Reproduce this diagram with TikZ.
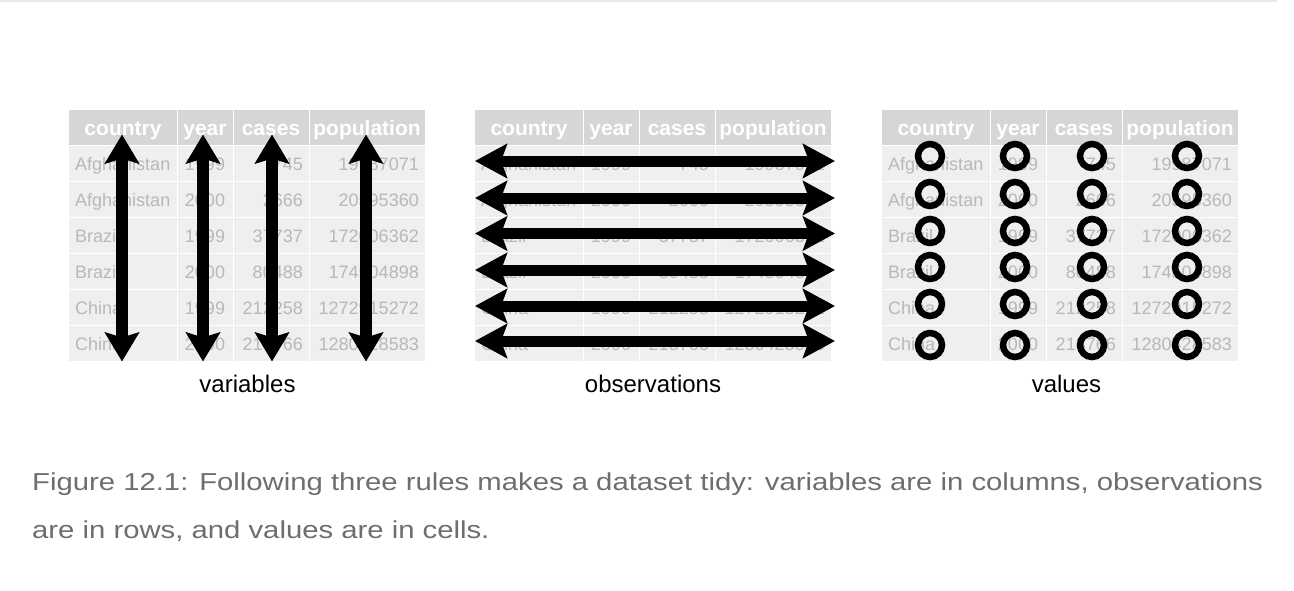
\documentclass[tikz,border=0pt]{standalone}
\usepackage{fontspec}
\setmainfont{Liberation Sans}
\usetikzlibrary{arrows.meta}
\definecolor{hdr}{HTML}{D6D6D8}
\definecolor{cellbg}{HTML}{EFEFEF}
\definecolor{celltxt}{HTML}{B8B8B8}
\definecolor{captxt}{HTML}{6E6E6E}
\definecolor{topline}{HTML}{E8E8E8}
\tikzset{
  hdrtxt/.style={text=white, font=\fontsize{21}{21}\selectfont\bfseries, inner sep=0pt, anchor=base},
  bodytxt/.style={text=celltxt, font=\fontsize{18}{18}\selectfont, inner sep=0pt},
  lbltxt/.style={text=black, font=\fontsize{24}{24}\selectfont, inner sep=0pt, anchor=base},
  captxtst/.style={text=captxt, font=\fontsize{24.5}{24.5}\selectfont, inner sep=0pt, anchor=base west},
  vararrow/.style={line width=12pt, {Stealth[length=29pt,width=34pt,inset=5pt]}-{Stealth[length=29pt,width=34pt,inset=5pt]}},
  obsarrow/.style={line width=11pt, {Stealth[length=32pt,width=34pt,inset=6pt]}-{Stealth[length=32pt,width=34pt,inset=6pt]}},
  valcircle/.style={draw=black, line width=6.5pt, circle, minimum size=24pt, inner sep=0pt},
}
\newcommand{\capstretch}[1]{\scalebox{1.195}[1]{#1}}
\newcommand{\tidytable}[2]{%
  % #1 = x offset, #2 = name prefix
  \begin{scope}[shift={(#1,0)}]
    \fill[hdr] (0,110) rectangle (356,145);
    \fill[cellbg] (0,145) rectangle (356,361);
    \foreach \yy in {145,181,217,253,289,325} {\draw[white, line width=1pt] (0,\yy) -- (356,\yy);}
    \foreach \xx in {108,164,240} {\draw[white, line width=1pt] (\xx,110) -- (\xx,361);}
    \node[hdrtxt] (#2h1) at (54,135) {country};
    \node[hdrtxt] (#2h2) at (136,135) {year};
    \node[hdrtxt] (#2h3) at (202,135) {cases};
    \node[hdrtxt] (#2h4) at (298,135) {population};
    \foreach \r/\c/\yr/\pp [count=\i] in {
      Afghanistan/1999/745/19987071,
      Afghanistan/2000/2666/20595360,
      Brazil/1999/37737/172006362,
      Brazil/2000/80488/174504898,
      China/1999/212258/1272915272,
      China/2000/213766/1280428583} {
      \node[bodytxt, anchor=base west] (#2c\i) at (6,{134.5+36*\i}) {\r};
      \node[bodytxt, anchor=base] (#2y\i) at (136,{134.5+36*\i}) {\c};
      \node[bodytxt, anchor=base east] (#2k\i) at (234,{134.5+36*\i}) {\yr};
      \node[bodytxt, anchor=base east] (#2p\i) at (350,{134.5+36*\i}) {\pp};
    }
  \end{scope}}
\begin{document}
\begin{tikzpicture}[x=1pt,y=-1pt]
\useasboundingbox (0,0) rectangle (1294,590);
\fill[white] (0,0) rectangle (1294,590);
\coordinate (tl1) at (0,1);
\coordinate (tl2) at (1277,1);
\draw[topline, line width=2pt] (tl1) -- (tl2);

% tables
\tidytable{69}{A}
\tidytable{475}{B}
\tidytable{882}{C}

% variables: vertical arrows
\foreach \xx [count=\j] in {122,203,272,366} {
  \coordinate (vt\j) at (\xx,134.5);
  \coordinate (vb\j) at (\xx,361.5);
  \draw[vararrow] (vt\j) -- (vb\j);
}

% observations: horizontal arrows
\foreach \yy [count=\j] in {161,198,233.5,270,306,341} {
  \coordinate (ol\j) at (475,\yy);
  \coordinate (or\j) at (835,\yy);
  \draw[obsarrow] (ol\j) -- (or\j);
}

% values: circles
\foreach \yy [count=\i] in {156,194,231,267,304,345} {
  \foreach \xx [count=\j] in {930,1015,1092,1187} {
    \node[valcircle] (v\i\j) at (\xx,\yy) {};
  }
}

% labels
\node[lbltxt] (lvar) at (247.5,392) {variables};
\node[lbltxt] (lobs) at (653,392) {observations};
\node[lbltxt] (lval) at (1066.5,392) {values};

% caption
\node[captxtst] (cap1) at (32,490) {\capstretch{Figure 12.1: Following three rules makes a dataset tidy: variables are in columns, observations}};
\node[captxtst] (cap2) at (32,538) {\capstretch{are in rows, and values are in cells.}};
\end{tikzpicture}
\end{document}
